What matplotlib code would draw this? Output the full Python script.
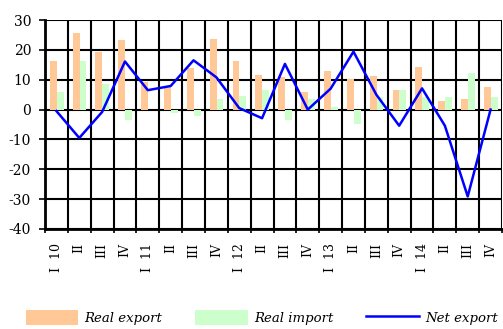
import matplotlib
matplotlib.use('Agg')

import numpy as np
import matplotlib.pyplot as plt
from matplotlib.ticker import FixedLocator

plt.rcParams['axes.unicode_minus'] = False

# quarterly data, 2010-2014
quarters = ['I  10', 'II', 'III', 'IV', 'I  11', 'II', 'III', 'IV',
            'I  12', 'II', 'III', 'IV', 'I  13', 'II', 'III', 'IV',
            'I  14', 'II', 'III', 'IV']
real_export = [16.4, 25.8, 19.2, 23.2, 9.1, 7.5, 13.8, 23.8, 16.4, 11.7,
               11.0, 6.0, 12.9, 10.4, 11.1, 6.7, 14.4, 3.0, 3.7, 7.4]
real_import = [6.0, 16.4, 8.4, -3.4, 0.0, -1.3, -2.0, 3.7, 4.4, 6.7,
               -3.4, 3.7, 0.7, -4.7, 4.3, 6.7, 4.2, 4.2, 12.1, 4.2]
net_export = [-0.5, -9.5, -0.8, 16.1, 6.5, 7.9, 16.5, 10.8, 0.5, -2.9,
              15.3, 0.0, 7.0, 19.4, 5.0, -5.4, 7.1, -5.4, -29.1, 0.0]

x = np.arange(len(quarters))

fig = plt.figure(figsize=(5.03, 3.29), dpi=100)
ax = fig.add_axes([45/503, 1 - 229/329, 457/503, 209/329])

b1 = ax.bar(x - 0.14, real_export, width=0.3, color='#FFC896', label='Real export', zorder=2)
b2 = ax.bar(x + 0.16, real_import, width=0.3, color='#CCFFCC', label='Real import', zorder=2)
l1, = ax.plot(x, net_export, color='#0000FF', lw=1.8, label='Net export', zorder=3)

ax.set_xlim(-0.5, len(quarters) - 0.5)
ax.set_ylim(-40, 30)
ax.set_yticks(np.arange(-40, 31, 10))

ax.set_xticks(x)
ax.set_xticklabels(quarters, rotation=90, fontsize=9, family='DejaVu Serif')
ax.xaxis.set_minor_locator(FixedLocator(np.arange(-0.5, len(quarters), 1)))
ax.tick_params(axis='x', which='major', length=0, pad=10)
ax.tick_params(axis='x', which='minor', length=3, width=1.2, direction='out')
ax.tick_params(axis='y', length=4, width=1.2, labelsize=10, pad=6)
for lab in ax.get_yticklabels():
    lab.set_family('DejaVu Serif')

ax.grid(True, axis='y', which='major', color='black', lw=1.5, zorder=1)
ax.grid(True, axis='x', which='minor', color='black', lw=1.5, zorder=1)
for s in ['top', 'right']:
    ax.spines[s].set_visible(False)
ax.spines['left'].set_linewidth(2)
ax.spines['bottom'].set_linewidth(2)

fig.legend([b1, b2, l1], ['Real export', 'Real import', 'Net export'],
           loc='lower left', bbox_to_anchor=(0.051, 0.012), ncol=3, frameon=False,
           handlelength=4.0, handleheight=1.3, columnspacing=2.5, handletextpad=0.45,
           borderpad=0, borderaxespad=0,
           prop={'family': 'DejaVu Serif', 'style': 'italic', 'size': 9.5})

fig.savefig('out.png', dpi=100)
